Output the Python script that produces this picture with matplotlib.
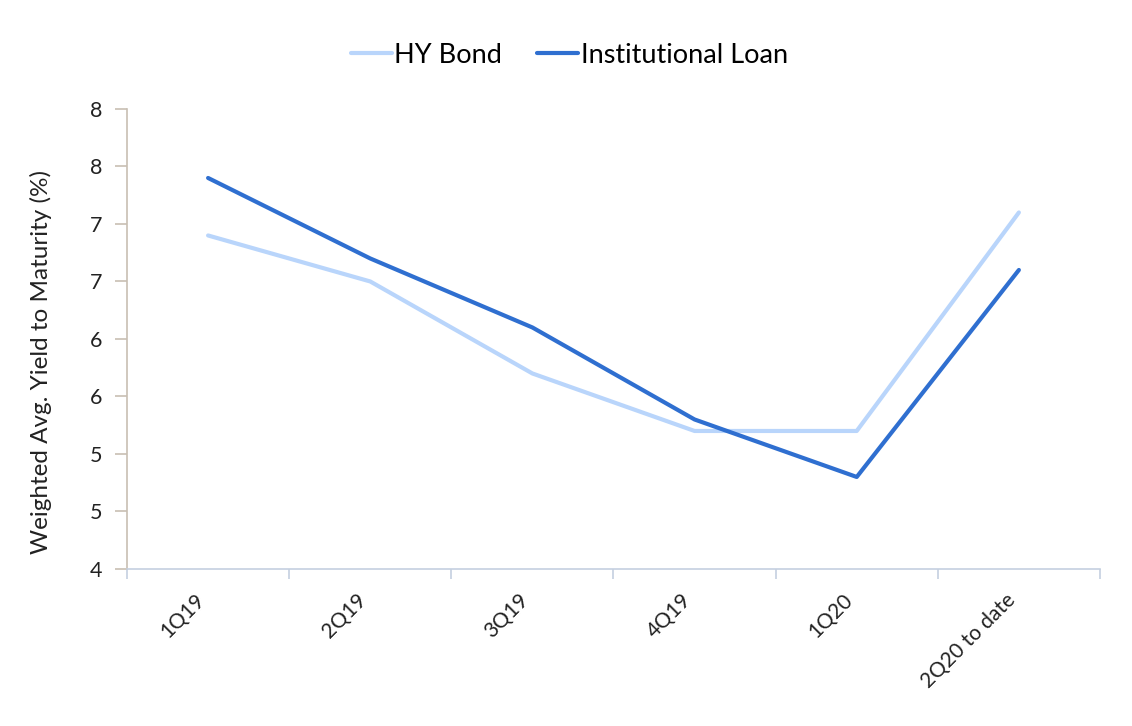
import matplotlib.pyplot as plt
from matplotlib.ticker import FuncFormatter, MultipleLocator
from matplotlib.transforms import ScaledTranslation
import numpy as np

plt.rcParams['font.family'] = ['Lato', 'DejaVu Sans']

quarters = ["1Q19", "2Q19", "3Q19", "4Q19", "1Q20", "2Q20 to date"]
hy_bond = [6.9, 6.5, 5.7, 5.2, 5.2, 7.1]
inst_loan = [7.4, 6.7, 6.1, 5.3, 4.8, 6.6]

fig = plt.figure(figsize=(11.32, 7.26), dpi=100)
ax = fig.add_axes([0.1122, 0.2163, 0.8595, 0.6336])

x = np.arange(len(quarters))
ax.plot(x, hy_bond, color='#b9d5fb', lw=3, label='HY Bond', solid_capstyle='round')
ax.plot(x, inst_loan, color='#2f6fd0', lw=3, label='Institutional Loan', solid_capstyle='round')

ax.set_xlim(-0.5, len(quarters) - 0.5)
ax.set_ylim(4, 8)
ax.yaxis.set_major_locator(MultipleLocator(0.5))
ax.yaxis.set_major_formatter(FuncFormatter(lambda v, p: f"{int(np.floor(v + 0.5))}"))

ax.set_xticks(np.arange(-0.5, len(quarters), 1.0))
ax.set_xticklabels([])
ax.set_xticks(x, minor=True)
ax.set_xticklabels(quarters, minor=True, rotation=45, ha='right', rotation_mode='anchor')
ax.tick_params(axis='x', which='minor', length=0, pad=15, labelsize=15, labelcolor='#222222')
ax.tick_params(axis='x', which='major', length=7, color='#c5d0e0', width=1.2)
ax.tick_params(axis='y', length=9, color='#c8bfb3', width=1.2, labelsize=15.5,
               labelcolor='#222222', pad=9)
shift = ScaledTranslation(-14 / 100, 0, fig.dpi_scale_trans)
for lbl in ax.get_xticklabels(minor=True):
    lbl.set_transform(lbl.get_transform() + shift)

for s in ['top', 'right']:
    ax.spines[s].set_visible(False)
ax.spines['left'].set_color('#c8bfb3')
ax.spines['left'].set_linewidth(1.2)
ax.spines['bottom'].set_color('#c5d0e0')
ax.spines['bottom'].set_linewidth(1.2)

ax.set_ylabel('Weighted Avg. Yield to Maturity (%)', fontsize=17.5, color='#222222')
ax.yaxis.set_label_coords(-0.077, 0.45)

fig.legend(loc='upper center', bbox_to_anchor=(0.503, 0.975), ncol=2, frameon=False,
           fontsize=19.5, handlelength=1.5, handletextpad=0.1, columnspacing=1.3)

fig.savefig('out.png', dpi=100)
